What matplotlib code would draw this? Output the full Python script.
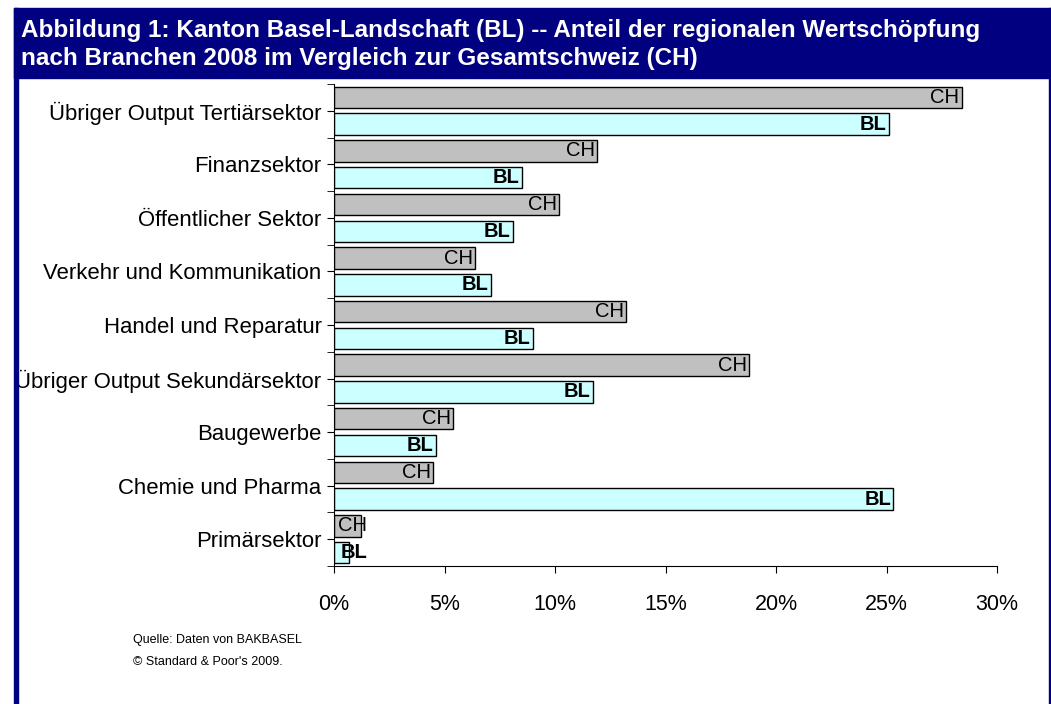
import matplotlib.pyplot as plt
import numpy as np
from matplotlib.patches import Rectangle

plt.rcParams['font.family'] = ['Liberation Sans', 'DejaVu Sans']

# Branchen, oben nach unten
branchen = ["Übriger Output Tertiärsektor", "Finanzsektor", "Öffentlicher Sektor",
            "Verkehr und Kommunikation", "Handel und Reparatur",
            "Übriger Output Sekundärsektor", "Baugewerbe", "Chemie und Pharma",
            "Primärsektor"]
ch_werte = [28.4, 11.9, 10.2, 6.4, 13.2, 18.8, 5.4, 4.5, 1.2]
bl_werte = [25.1, 8.5, 8.1, 7.1, 9.0, 11.7, 4.6, 25.3, 0.7]
x_ticks = [0, 5, 10, 15, 20, 25, 30]

navy = '#000080'

fig = plt.figure(figsize=(10.51, 7.04), dpi=100)
W, H = 1051, 704

# Rahmen + Titelbalken
fig.patches.append(Rectangle((14 / W, 0), 4 / W, (H - 8) / H, transform=fig.transFigure,
                             color=navy, zorder=0))
fig.patches.append(Rectangle((1049 / W, 0), 2 / W, (H - 8) / H, transform=fig.transFigure,
                             color=navy, zorder=0))
fig.patches.append(Rectangle((14 / W, (H - 78) / H), (W - 14) / W, 70 / H,
                             transform=fig.transFigure, color=navy, zorder=0))
fig.text(21 / W, (H - 31) / H, "Abbildung 1: Kanton Basel-Landschaft (BL) -- Anteil der regionalen Wertschöpfung",
         color='white', fontsize=17.5, fontweight='bold', va='center', ha='left')
fig.text(21 / W, (H - 59) / H, "nach Branchen 2008 im Vergleich zur Gesamtschweiz (CH)",
         color='white', fontsize=17.5, fontweight='bold', va='center', ha='left')

# Achse
ax = fig.add_axes([334 / W, (H - 566) / H, (997 - 334) / W, (566 - 84) / H])
n = len(branchen)
y = np.arange(n)[::-1]
ax.barh(y + 0.25, ch_werte, height=0.4, color='#c0c0c0', edgecolor='black', linewidth=1)
ax.barh(y - 0.25, bl_werte, height=0.4, color='#ccffff', edgecolor='black', linewidth=1)

for yi, v in zip(y, ch_werte):
    if v < 2.5:
        ax.text(0.2, yi + 0.25, "CH", ha='left', va='center', fontsize=14.5)
    else:
        ax.text(v - 0.1, yi + 0.25, "CH", ha='right', va='center', fontsize=14.5)
for yi, v in zip(y, bl_werte):
    if v < 2.5:
        ax.text(0.3, yi - 0.25, "BL", ha='left', va='center', fontsize=14.5,
                fontweight='bold')
    else:
        ax.text(v - 0.1, yi - 0.25, "BL", ha='right', va='center', fontsize=14.5,
                fontweight='bold')

ax.set_xlim(0, 30)
ax.set_ylim(-0.5, n - 0.5)
ax.set_xticks(x_ticks)
ax.set_xticklabels([f"{t}%" for t in x_ticks], fontsize=15.5)
ax.tick_params(axis='x', direction='out', length=5, pad=15)

ax.set_yticks(y)
ax.set_yticklabels(branchen, fontsize=15.9, va='center_baseline')
ax.tick_params(axis='y', which='major', direction='out', length=5, pad=4)
ax.set_yticks(np.arange(-0.5, n, 1.0), minor=True)
ax.tick_params(axis='y', which='minor', direction='out', length=5)

ax.spines['top'].set_visible(False)
ax.spines['right'].set_visible(False)

fig.text(133 / W, (H - 640) / H, "Quelle: Daten von BAKBASEL", fontsize=9, va='center')
fig.text(133 / W, (H - 662) / H, "© Standard & Poor's 2009.", fontsize=9, va='center')

fig.savefig('out.png', dpi=100)
